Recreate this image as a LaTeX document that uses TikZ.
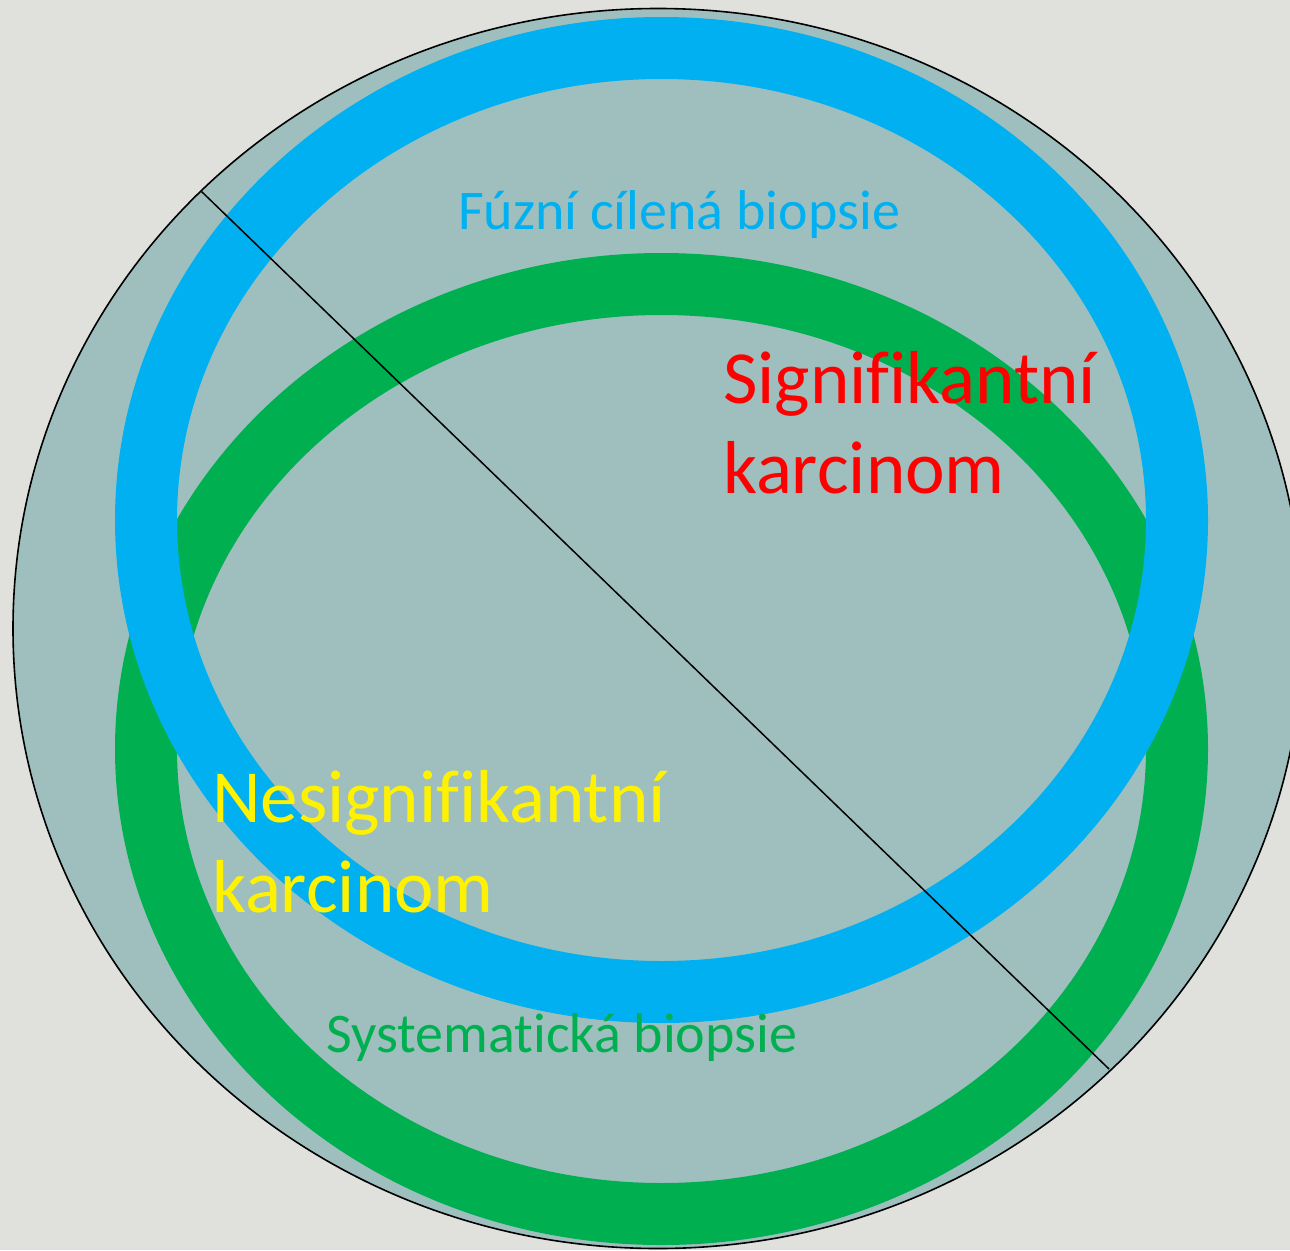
\documentclass[tikz,border=0pt]{standalone}
\usepackage{fontspec}
\setmainfont{Carlito}[Ligatures=NoCommon]
\definecolor{bgc}{HTML}{E0E1DC}
\definecolor{fillc}{HTML}{9EBFBE}
\definecolor{ringblue}{HTML}{00B0F0}
\definecolor{ringgreen}{HTML}{00B050}
\tikzset{
  ring/.style={line width=62pt},
  label/.style={anchor=base west, inner sep=0pt},
  big/.style={font=\fontsize{75}{90}\selectfont},
  small/.style={font=\fontsize{56}{67}\selectfont}
}
\begin{document}
\begin{tikzpicture}[x=1pt,y=-1pt]
\useasboundingbox (0,0) rectangle (1290,1250);
\clip (0,0) rectangle (1290,1250);
\fill[bgc] (0,0) rectangle (1290,1250);
% outer ellipse
\coordinate (oc) at (658,628.5);
\draw[fill=fillc, draw=black, line width=1.6pt] (oc) ellipse [x radius=645, y radius=620];
% rings
\draw[ring, ringgreen] (661.5,749) ellipse [x radius=515.5, y radius=465];
\draw[ring, ringblue] (661.5,520) ellipse [x radius=515.5, y radius=472];
% diagonal line
\coordinate (ls) at (201.7,191.7);
\coordinate (le) at (1109,1069);
\draw[black, line width=1.5pt] (ls) -- (le);
% texts
\node[label, small, text=ringblue] (fuz) at (458,229) {Fúzní cílená biopsie};
\node[label, big, text=red] (sig1) at (723,403) {Signifikantní};
\node[label, big, text=red] (sig2) at (723,493) {karcinom};
\node[label, big, text=yellow] (nes1) at (212,822) {Nesignifikantní};
\node[label, big, text=yellow] (nes2) at (212,912) {karcinom};
\node[label, small, text=ringgreen] (sys) at (326,1052) {Systematická biopsie};
\end{tikzpicture}
\end{document}
